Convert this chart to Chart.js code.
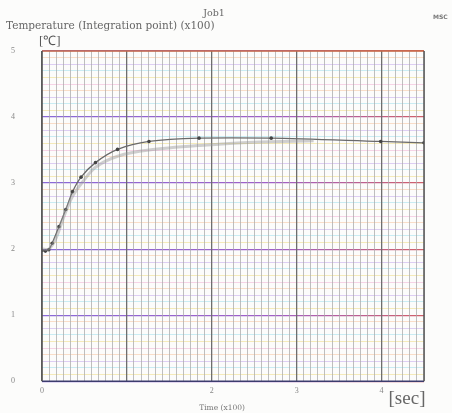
<!DOCTYPE html>
<html>
<head>
<meta charset="utf-8">
<script src="https://cdn.jsdelivr.net/npm/chart.js@4/dist/chart.umd.min.js"></script>
<style>
  html, body { margin: 0; padding: 0; background: #fcfcfb; }
  #wrap { width: 452px; height: 413px; position: relative; }
</style>
</head>
<body>
<div id="wrap"><canvas id="tempChart" width="452" height="413"></canvas></div>
<script>
// time (x100 sec) and temperature (x100 C)
const mainTime = [0, 0.04, 0.08, 0.12, 0.2, 0.28, 0.36, 0.46, 0.63, 0.89, 1.26, 1.85, 2.7, 3.99, 4.5];
const mainTemp = [1.98, 1.97, 1.99, 2.09, 2.34, 2.6, 2.87, 3.09, 3.31, 3.51, 3.63, 3.68, 3.68, 3.63, 3.61];

// fainter second trace lagging under the main one
const faintTime = [0, 0.08, 0.16, 0.26, 0.36, 0.48, 0.63, 0.9, 1.26, 1.86, 2.5, 3.2];
const faintTemp = [2.0, 2.0, 2.15, 2.5, 2.8, 3.02, 3.24, 3.41, 3.5, 3.57, 3.62, 3.64];

const xTickLabels = ["0", "", "2", "3", "4"];   // "1" is not printed on the original
const yTickLabels = ["0", "1", "2", "3", "4", "5"];

const minorRowColors = [
    "rgba(240,170,210,0.5)", "rgba(235,215,120,0.5)", "rgba(150,220,235,0.5)",
    "rgba(190,160,235,0.5)", "rgba(245,190,150,0.5)"
];

function isWhole(v) { return Math.abs(v - Math.round(v)) < 1e-6; }

function toPoints(xs, ys) {
    return xs.map((x, i) => ({ x: x, y: ys[i] }));
}

let majorRowGrad = null;
function majorRowColor(chart) {
    const a = chart.chartArea;
    if (!a) return "#9e5cc8";
    if (!majorRowGrad) {
        majorRowGrad = chart.ctx.createLinearGradient(a.left, 0, a.right, 0);
        majorRowGrad.addColorStop(0, "#8a6ad8");
        majorRowGrad.addColorStop(0.6, "#a060c8");
        majorRowGrad.addColorStop(1, "#d0606a");
    }
    return majorRowGrad;
}

// frame + loose text around the plot
const decorPlugin = {
    id: "decor",
    afterDraw(chart) {
        const c = chart.ctx;
        const a = chart.chartArea;
        c.save();
        c.lineWidth = 1.5;
        c.strokeStyle = "#c86a44";
        c.beginPath(); c.moveTo(a.left, a.top); c.lineTo(a.right, a.top); c.stroke();
        c.strokeStyle = "#3c3c6e";
        c.beginPath(); c.moveTo(a.left, a.bottom); c.lineTo(a.right, a.bottom); c.stroke();
        c.strokeStyle = "#555";
        c.beginPath(); c.moveTo(a.left, a.top); c.lineTo(a.left, a.bottom); c.stroke();
        c.beginPath(); c.moveTo(a.right, a.top); c.lineTo(a.right, a.bottom); c.stroke();

        c.fillStyle = "#666";
        c.textBaseline = "middle";
        c.textAlign = "center";
        c.font = "9.5px 'DejaVu Serif', serif";
        c.fillText("Job1", 214, 14);
        c.textAlign = "left";
        c.font = "10.5px 'DejaVu Serif', serif";
        c.fillText("Temperature (Integration point) (x100)", 6, 26);
        c.fillStyle = "#555";
        c.font = "13px 'Liberation Serif', serif";
        c.fillText("[\u2103]", 39, 42);
        c.font = "bold 6px 'DejaVu Sans', sans-serif";
        c.fillStyle = "#777";
        c.fillText("MSC", 433, 17);
        c.textAlign = "center";
        c.font = "7.5px 'DejaVu Serif', serif";
        c.fillText("Time (x100)", 222, 408);
        c.fillStyle = "#666";
        c.font = "19px 'Liberation Serif', serif";
        c.fillText("[sec]", 407, 399);
        c.restore();
    }
};

const ctx = document.getElementById("tempChart").getContext("2d");

new Chart(ctx, {
    type: "line",
    data: {
        datasets: [{
            data: toPoints(faintTime, faintTemp),
            borderColor: "rgba(150,150,150,0.45)",
            borderWidth: 3,
            pointRadius: 0,
            tension: 0.3,
            fill: false
        }, {
            data: toPoints(mainTime, mainTemp),
            borderColor: "#6a6a6a",
            borderWidth: 1.3,
            pointRadius: 1.8,
            pointBackgroundColor: "#444",
            pointBorderWidth: 0,
            tension: 0.3,
            fill: false
        }]
    },
    options: {
        responsive: false,
        animation: false,
        layout: { padding: { left: 0, right: 28, top: 51, bottom: 0 } },
        plugins: {
            legend: { display: false },
            tooltip: { enabled: false }
        },
        scales: {
            y: {
                min: 0,
                max: 5,
                afterFit(scale) { scale.width = 42; },
                border: { display: false },
                grid: {
                    drawTicks: false,
                    lineWidth: (c) => Math.round(c.tick.value * 10) % 10 === 0 ? 1.2 : 1,
                    color: (c) => {
                        const i = Math.round(c.tick.value * 10);
                        if (i % 10 === 0) return majorRowColor(c.chart);
                        return minorRowColors[i % minorRowColors.length];
                    }
                },
                ticks: {
                    stepSize: 0.1,
                    autoSkip: false,
                    padding: 27,
                    color: "#888",
                    font: { family: "'Liberation Serif', serif", size: 8 },
                    callback: (v) => isWhole(v) ? yTickLabels[Math.round(v)] : ""
                }
            },
            x: {
                type: "linear",
                min: 0,
                max: 4.5,
                afterFit(scale) { scale.height = 26; },
                border: { display: false },
                grid: {
                    drawTicks: false,
                    lineWidth: (c) => isWhole(c.tick.value) ? 1.3 : 1,
                    color: (c) => isWhole(c.tick.value) ? "#6e6e6e" : "rgba(170,170,170,0.75)"
                },
                ticks: {
                    stepSize: 1 / 12,
                    autoSkip: false,
                    maxRotation: 0,
                    padding: 5,
                    color: "#888",
                    font: { family: "'Liberation Serif', serif", size: 8 },
                    callback: (v) => {
                        if (!isWhole(v)) return "";
                        const i = Math.round(v);
                        return i < xTickLabels.length ? xTickLabels[i] : "";
                    }
                }
            }
        }
    },
    plugins: [decorPlugin]
});
</script>
</body>
</html>
